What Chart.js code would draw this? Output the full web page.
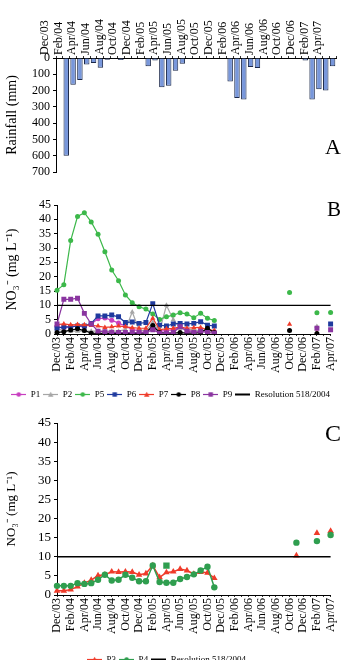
<!DOCTYPE html>
<html>
<head>
<meta charset="utf-8">
<script src="https://cdn.jsdelivr.net/npm/chart.js@4.4.0/dist/chart.umd.min.js"></script>
<style>
html, body { margin: 0; padding: 0; background: #fff; width: 346px; height: 660px; overflow: hidden; }
canvas { position: absolute; left: 0; }
</style>
</head>
<body>
<canvas id="chartA" width="346" height="186" style="top:0px"></canvas>
<canvas id="chartB" width="346" height="220" style="top:190px"></canvas>
<canvas id="chartC" width="346" height="281" style="top:405px"></canvas>
<script>
const N = null;
const months = ['Dec/03','Jan/04','Feb/04','Mar/04','Apr/04','May/04','Jun/04','Jul/04','Aug/04','Sep/04','Oct/04','Nov/04',
  'Dec/04','Jan/05','Feb/05','Mar/05','Apr/05','May/05','Jun/05','Jul/05','Aug/05','Sep/05','Oct/05','Nov/05',
  'Dec/05','Jan/06','Feb/06','Mar/06','Apr/06','May/06','Jun/06','Jul/06','Aug/06','Sep/06','Oct/06','Nov/06',
  'Dec/06','Jan/07','Feb/07','Mar/07','Apr/07'];

// A - rainfall (mm)
const rainfall = [0,600,165,135,40,30,60,10,5,12,0,0,
  0,50,15,180,170,78,35,5,0,0,0,0,
  3,145,245,255,55,62,0,0,0,0,0,0,
  15,255,192,200,50];

// B - NO3 per well
const p1 = [2.5,2.2,2.5,2.8,2.5,3.5,5.3,5.6,4.8,3.8,2.8,1.5,
  1.2,1,2,1,1.2,1.5,2.5,1.5,0.8,1.5,0.8,0.8,
  N,N,N,N,N,N,N,N,N,N,N,N,N,N,N,N,N];
const p2 = [2,1,1,1,1,1,1,1,1,1,1.5,7.7,
  1.5,1,4,1,10,5,2,1.5,1.5,1,1,1,
  N,N,N,N,N,N,N,N,N,N,N,N,N,N,2.6,N,N];
const p5 = [15.3,17.2,32.6,41,42.3,39.1,34.8,28.7,22.3,18.6,13.6,10.9,
  9.5,8.7,7,5.1,6,6.6,7.4,7,5.7,7.2,5.5,4.7,
  N,N,N,N,N,N,N,N,N,N,14.5,N,N,N,7.4,N,7.5];
const p6 = [2,2.5,2.5,2.8,2.8,3.7,6.3,6.3,6.6,6,4,4.2,
  3.7,4,10.6,3.1,2.8,3.5,3.7,3.5,3.7,4.3,3.1,2.8,
  N,N,N,N,N,N,N,N,N,N,N,N,N,N,N,N,3.5];
const p7 = [3.3,3.5,3.2,3.3,3.2,3,2.8,2.3,2.5,2.8,2.5,2.2,
  2,2,5.5,1.5,1.8,2,2.5,2,2.2,2.3,1.5,1.2,
  N,N,N,N,N,N,N,N,N,N,3.4,N,N,N,0.4,N,N];
const p8 = [0.5,0.8,1.4,1.8,1.2,0.3,0.2,0.2,0.2,0.2,0.2,0.2,
  0.3,0.3,3,0.5,0.3,0.3,0.5,0.3,0.3,0.5,2,0.5,
  N,N,N,N,N,N,N,N,N,N,1.2,N,N,N,0.2,N,N];
const p9 = [3.5,12.1,12.1,12.5,7.2,3.5,1,0.8,0.6,0.5,0.5,0.5,
  0.5,0.5,1.5,0.3,0.3,0.5,2.5,1,0.5,1,0.5,0.3,
  N,N,N,N,N,N,N,N,N,N,N,N,N,N,2.0,N,1.5];

// C - NO3 per well
const p3 = [1.1,1.1,1.4,2.2,3.1,3.9,5.1,5.3,6.1,6.0,6.1,6.0,
  5.3,5.6,7.7,4.6,5.9,6.1,6.8,6.4,5.5,6.0,5.8,4.4,
  N,N,N,N,N,N,N,N,N,N,N,10.3,N,N,16.2,N,16.7];
const p4 = [2.4,2.4,2.4,3.1,2.9,3.1,4.0,5.3,3.8,4.0,5.3,4.5,
  3.6,3.6,7.7,3.4,3.2,3.2,4.2,4.7,5.4,6.4,7.4,2.0,
  N,N,N,N,N,N,N,N,N,N,N,13.7,N,N,14.1,N,15.7];
const p4extra = [N,N,N,N,N,N,N,N,N,N,N,N,
  N,N,N,N,7.7,N,N,N,N,N,N,N,
  N,N,N,N,N,N,N,N,N,N,N,N,N,N,N,N,N];

const limit = 10; // Resolution 518/2004
const yTitle = 'NO\u2083\u207B (mg L\u207B\u00B9)';

Chart.defaults.font.family = "'Liberation Serif', 'Times New Roman', serif";
Chart.defaults.color = '#000';

const panelLetter = {
  id: 'panelLetter',
  afterDraw(chart, args, opts) {
    const ctx = chart.ctx;
    ctx.save();
    ctx.font = opts.size + "px 'Liberation Serif', serif";
    ctx.fillStyle = '#000';
    ctx.textAlign = 'center';
    ctx.textBaseline = 'middle';
    ctx.fillText(opts.text, opts.x, opts.y);
    ctx.restore();
  }
};

function sample(color, style, lw) {
  const c = document.createElement('canvas');
  c.width = 15; c.height = 7;
  const g = c.getContext('2d');
  g.strokeStyle = color; g.fillStyle = color; g.lineWidth = lw;
  g.beginPath(); g.moveTo(0, 3.5); g.lineTo(15, 3.5); g.stroke();
  g.beginPath();
  if (style === 'circle') g.arc(7.5, 3.5, 2.3, 0, Math.PI * 2);
  if (style === 'rect') g.rect(5.3, 1.3, 4.4, 4.4);
  if (style === 'triangle') { g.moveTo(7.5, 0.8); g.lineTo(10.2, 5.8); g.lineTo(4.8, 5.8); g.closePath(); }
  g.fill();
  return c;
}

function lineSet(label, data, color, style, r, lw, n) {
  return { label, data, borderColor: color, backgroundColor: color, pointStyle: style,
    pointRadius: r, pointBorderWidth: 0, borderWidth: lw, tension: 0, spanGaps: false,
    order: n, legendImg: sample(color, style, 1.2) };
}

function limitSet(lw) {
  return { label: 'Resolution 518/2004', data: [{ x: months[0], y: limit }, { x: months[months.length - 1], y: limit }],
    borderColor: '#000', backgroundColor: '#000', borderWidth: lw, pointRadius: 0, order: 0,
    legendImg: sample('#000', null, 2) };
}

function legendOpts(align) {
  return {
    position: 'bottom', align,
    labels: {
      usePointStyle: true, pointStyleWidth: 15, boxHeight: 8, padding: 3,
      font: { size: 9 }, color: '#000',
      filter: item => item.text !== '',
      generateLabels: chart => chart.data.datasets.map((ds, i) => ({
        text: ds.label, pointStyle: ds.legendImg, fillStyle: ds.borderColor,
        strokeStyle: ds.borderColor, lineWidth: 0, hidden: false, datasetIndex: i
      }))
    }
  };
}

function xTicks() {
  return { autoSkip: false, maxRotation: 90, minRotation: 90, padding: 1, font: { size: 12 }, color: '#000',
    callback: (v, i) => i % 2 === 0 ? months[i] : '' };
}

function yTicks(step, size) {
  return { autoSkip: false, stepSize: step, font: { size }, color: '#000', padding: 3 };
}

// Panel A
new Chart(document.getElementById('chartA'), {
  type: 'bar',
  data: { labels: months, datasets: [{ label: 'Rainfall', data: rainfall, backgroundColor: '#7897db',
    borderColor: '#1b2849', borderWidth: 1, barPercentage: 0.8, categoryPercentage: 1 }] },
  options: {
    responsive: false, animation: false,
    layout: { padding: { left: 0, right: 10, top: 0, bottom: 14 } },
    plugins: { legend: { display: false }, tooltip: { enabled: false },
      panelLetter: { text: 'A', x: 333, y: 148, size: 22 } },
    scales: {
      x: { position: 'top', ticks: xTicks(),
        grid: { drawOnChartArea: false, tickLength: 2, color: '#333', offset: true },
        border: { color: '#000' }, afterFit: s => { s.height = 58; } },
      y: { reverse: true, min: 0, max: 700, ticks: yTicks(100, 12),
        grid: { drawOnChartArea: false, tickLength: 3, color: '#000' }, border: { color: '#000' },
        title: { display: true, text: 'Rainfall (mm)', font: { size: 14 }, color: '#000' },
        afterFit: s => { s.width = 56; } }
    }
  },
  plugins: [panelLetter]
});

// Panel B
new Chart(document.getElementById('chartB'), {
  type: 'line',
  data: { labels: months, datasets: [
    lineSet('P1', p1, '#c83fc0', 'circle', 2.5, 1.2, 8),
    lineSet('P2', p2, '#a6a6a6', 'triangle', 3, 1.2, 7),
    lineSet('P5', p5, '#3cb84a', 'circle', 2.5, 1.2, 6),
    lineSet('P6', p6, '#1f3a9e', 'rect', 3.5, 1.2, 5),
    lineSet('P7', p7, '#ef3b2a', 'triangle', 3, 1.2, 4),
    lineSet('P8', p8, '#000000', 'circle', 2.5, 1.2, 3),
    lineSet('P9', p9, '#8a35a0', 'rect', 3.5, 1.2, 2),
    limitSet(1.3)
  ] },
  options: {
    responsive: false, animation: false,
    layout: { padding: { left: 0, right: 13, top: 15, bottom: 1 } },
    plugins: { legend: legendOpts('end'), tooltip: { enabled: false },
      panelLetter: { text: 'B', x: 334, y: 20, size: 21 } },
    scales: {
      x: { offset: false, ticks: xTicks(),
        grid: { drawOnChartArea: false, tickLength: 2, color: '#333' }, border: { color: '#000' },
        afterFit: s => { s.height = 53; } },
      y: { min: 0, max: 45, ticks: yTicks(5, 12),
        grid: { drawOnChartArea: false, tickLength: 3, color: '#000' }, border: { color: '#000' },
        title: { display: true, text: yTitle, font: { size: 14 }, color: '#000' },
        afterFit: s => { s.width = 57; } }
    }
  },
  plugins: [panelLetter]
});

// Panel C
const extraC = lineSet('', p4extra, '#2f9e4f', 'rect', 4.5, 0, 2);
extraC.showLine = false;
new Chart(document.getElementById('chartC'), {
  type: 'line',
  data: { labels: months, datasets: [
    lineSet('P3', p3, '#ef3b2a', 'triangle', 3.8, 1.5, 4),
    lineSet('P4', p4, '#2f9e4f', 'circle', 3.2, 1.5, 3),
    limitSet(1.5),
    extraC
  ] },
  options: {
    responsive: false, animation: false,
    layout: { padding: { left: 0, right: 13, top: 18, bottom: 12 } },
    plugins: { legend: legendOpts('center'), tooltip: { enabled: false },
      panelLetter: { text: 'C', x: 333, y: 30, size: 24 } },
    scales: {
      x: { offset: false, ticks: xTicks(),
        grid: { drawOnChartArea: false, tickLength: 2, color: '#333' }, border: { color: '#000' },
        afterFit: s => { s.height = 57; } },
      y: { min: 0, max: 45, ticks: yTicks(5, 13),
        grid: { drawOnChartArea: false, tickLength: 3, color: '#000' }, border: { color: '#000' },
        title: { display: true, text: yTitle, font: { size: 13 }, color: '#000' },
        afterFit: s => { s.width = 57; } }
    }
  },
  plugins: [panelLetter]
});
</script>
</body>
</html>
